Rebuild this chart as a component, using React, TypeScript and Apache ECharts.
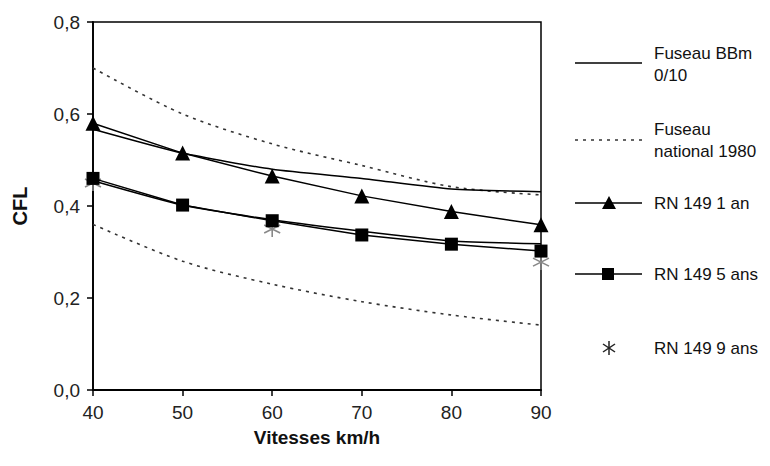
import React, { useEffect, useRef } from "react";
import * as echarts from "echarts";

const speeds = [40, 50, 60, 70, 80, 90];
const bbmUpper = [0.567, 0.515, 0.48, 0.46, 0.437, 0.431];
const bbmLower = [0.455, 0.402, 0.37, 0.345, 0.324, 0.318];
const nat1980Upper = [0.7, 0.6, 0.535, 0.488, 0.442, 0.424];
const nat1980Lower = [0.36, 0.28, 0.23, 0.192, 0.163, 0.141];
const rn1an = [0.58, 0.515, 0.465, 0.422, 0.388, 0.359];
const rn5ans = [0.46, 0.402, 0.368, 0.337, 0.317, 0.302];
const rn9ans: (number | null)[] = [0.45, null, 0.35, null, null, 0.278];
const yTicks = [0, 0.2, 0.4, 0.6, 0.8];

const FONT = "'Liberation Sans', Arial, Helvetica, sans-serif";
const STAR = "path://M0,-1L0,1M-0.87,-0.5L0.87,0.5M-0.87,0.5L0.87,-0.5";

const pts = (ys: (number | null)[]) => speeds.map((x, i) => [x, ys[i]]);

export default function App() {
  const ref = useRef<HTMLDivElement>(null);
  useEffect(() => {
    if (!ref.current) return;
    const chart = echarts.init(ref.current, undefined, { renderer: "svg" });
    const lineBase = { type: "line", symbol: "none", silent: true, z: 2 };
    const dotted = { color: "#333", width: 1.6, type: [3, 5] as any };
    const legendLine = (y: number) => ({
      type: "line",
      shape: { x1: 575, y1: y, x2: 642, y2: y },
      style: { stroke: "#000", lineWidth: 1.6 },
    });
    const legendText = (y: number, text: string) => ({
      type: "text",
      x: 654,
      y,
      style: { text, fill: "#111", font: `17px ${FONT}`, lineHeight: 22, verticalAlign: "middle", align: "left" },
    });
    chart.setOption({
      animation: false,
      backgroundColor: "#fff",
      grid: { left: 93, right: 229, top: 22, bottom: 76, show: true, borderColor: "#000", borderWidth: 1.5 },
      xAxis: {
        type: "value",
        min: 40,
        max: 90,
        interval: 10,
        name: "Vitesses km/h",
        nameLocation: "middle",
        nameGap: 38,
        nameTextStyle: { fontFamily: FONT, fontSize: 19, fontWeight: "bold", color: "#111" },
        axisLine: { lineStyle: { color: "#000", width: 1.8 } },
        axisTick: { inside: false, length: 6, lineStyle: { color: "#000", width: 1.5 } },
        axisLabel: { fontFamily: FONT, fontSize: 19, color: "#222", margin: 13 },
        splitLine: { show: false },
      },
      yAxis: {
        type: "value",
        min: 0,
        max: 0.8,
        interval: 0.2,
        name: "CFL",
        nameLocation: "middle",
        nameGap: 63,
        nameTextStyle: { fontFamily: FONT, fontSize: 20, fontWeight: "bold", color: "#111" },
        axisLine: { show: true, lineStyle: { color: "#000", width: 1.8 } },
        axisTick: { show: true, length: 6, lineStyle: { color: "#000", width: 1.5 } },
        axisLabel: {
          fontFamily: FONT,
          fontSize: 19,
          color: "#222",
          margin: 13,
          formatter: (v: number) => (yTicks.some((t) => Math.abs(t - v) < 1e-9) ? v.toFixed(1).replace(".", ",") : ""),
        },
        splitLine: { show: false },
      },
      series: [
        { ...lineBase, name: "Fuseau national 1980", data: pts(nat1980Upper), smooth: 0.3, lineStyle: dotted },
        { ...lineBase, name: "Fuseau national 1980 b", data: pts(nat1980Lower), smooth: 0.3, lineStyle: dotted },
        { ...lineBase, name: "Fuseau BBm 0/10", data: pts(bbmUpper), smooth: 0.2, lineStyle: { color: "#000", width: 1.5 } },
        { ...lineBase, name: "Fuseau BBm 0/10 b", data: pts(bbmLower), smooth: 0.2, lineStyle: { color: "#000", width: 1.5 } },
        {
          type: "line",
          name: "RN 149 9 ans",
          data: pts(rn9ans),
          symbol: STAR,
          symbolSize: 16,
          lineStyle: { width: 0, opacity: 0 },
          itemStyle: { color: "#888", borderColor: "#888", borderWidth: 1.6 },
          z: 3,
          silent: true,
        },
        {
          type: "line",
          name: "RN 149 5 ans",
          data: pts(rn5ans),
          symbol: "rect",
          symbolSize: 13,
          lineStyle: { color: "#000", width: 1.5 },
          itemStyle: { color: "#000" },
          z: 4,
          silent: true,
        },
        {
          type: "line",
          name: "RN 149 1 an",
          data: pts(rn1an),
          symbol: "triangle",
          symbolSize: 15,
          lineStyle: { color: "#000", width: 1.5 },
          itemStyle: { color: "#000" },
          z: 4,
          silent: true,
        },
      ],
      graphic: [
        legendLine(63),
        legendText(64, "Fuseau BBm\n0/10"),
        { type: "line", shape: { x1: 575, y1: 140, x2: 642, y2: 140 }, style: { stroke: "#333", lineWidth: 1.3, lineDash: [3, 5] } },
        legendText(140, "Fuseau\nnational 1980"),
        legendLine(203),
        { type: "polygon", shape: { points: [[609, 196], [602, 209], [616, 209]] }, style: { fill: "#000" } },
        legendText(203, "RN 149 1 an"),
        legendLine(274),
        { type: "rect", shape: { x: 602, y: 268, width: 12, height: 12 }, style: { fill: "#000" } },
        legendText(274, "RN 149 5 ans"),
        { type: "line", shape: { x1: 609, y1: 341, x2: 609, y2: 355 }, style: { stroke: "#222", lineWidth: 1.5 } },
        { type: "line", shape: { x1: 603, y1: 344, x2: 615, y2: 352 }, style: { stroke: "#222", lineWidth: 1.5 } },
        { type: "line", shape: { x1: 603, y1: 352, x2: 615, y2: 344 }, style: { stroke: "#222", lineWidth: 1.5 } },
        legendText(348, "RN 149 9 ans"),
      ],
    });
    return () => chart.dispose();
  }, []);
  return <div ref={ref} style={{ width: 770, height: 466, position: "absolute", left: 0, top: 0 }} />;
}
